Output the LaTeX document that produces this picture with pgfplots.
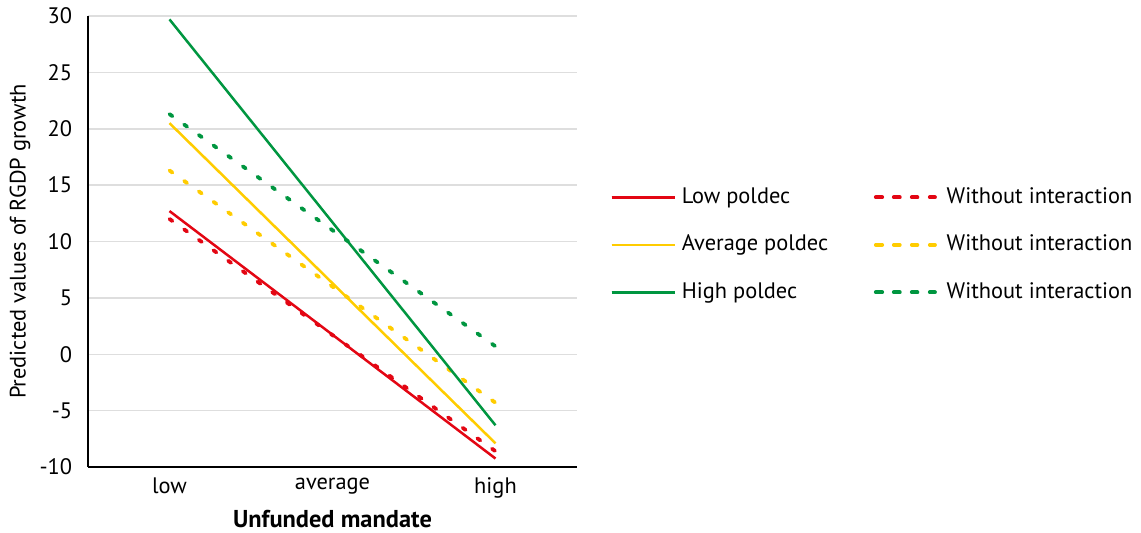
\documentclass[border=0pt]{standalone}
\usepackage{fontspec}
\setmainfont{PT Sans}
\usepackage{pgfplots}
\pgfplotsset{compat=1.18}
\definecolor{cred}{RGB}{227,6,19}
\definecolor{cyel}{RGB}{255,204,0}
\definecolor{cgrn}{RGB}{0,150,64}
\definecolor{cgrid}{RGB}{222,222,222}
\tikzset{
  solidln/.style={line width=1.25pt},
  dashln/.style={line width=1.9pt, line cap=round, dash pattern=on 1.8pt off 7.2pt},
}
\pgfplotsset{
  solidleg/.style={legend image code/.code={\path (0pt,0pt) -- (31.5pt,0pt);\draw[##1] (0pt,0pt) -- (31.5pt,0pt);}},
  dashleg/.style={legend image code/.code={\path (0pt,0pt) -- (31.5pt,0pt);\draw[##1,dash pattern=on 2.2pt off 6.6pt] (1pt,0pt) -- (29.7pt,0pt);}},
}
\begin{document}
\fontsize{11.2}{13}\selectfont
\begin{tikzpicture}
\useasboundingbox (-44pt,-32.5pt) rectangle (526.5pt,233.5pt);
\begin{axis}[
  scale only axis, width=244.5pt, height=225.5pt,
  at={(0,0)}, anchor=south west,
  xmin=-0.5, xmax=2.5, ymin=-10, ymax=30,
  xtick={0,1,2}, xticklabels={low,average,high},
  ytick={-10,-5,0,5,10,15,20,25,30},
  /pgf/number format/assume math mode=true,
  axis lines*=left,
  axis line style={line width=0.75pt, black},
  major tick length=0pt,
  ymajorgrids, grid style={cgrid, line width=0.75pt},
  tick label style={font=\fontsize{11.2}{13}\selectfont},
  yticklabel style={xshift=-4pt},
  xticklabel style={yshift=-1.5pt},
  xlabel={\textbf{Unfunded mandate}},
  ylabel={Predicted values of RGDP growth},
  label style={font=\fontsize{11.2}{13}\selectfont},
  xlabel style={at={(axis description cs:0.5,-0.1153)}, anchor=center, font=\fontsize{12.2}{14}\selectfont},
  ylabel style={at={(axis description cs:-0.139,0.5)}, anchor=center},
  legend columns=2,
  legend cell align=left,
  legend style={at={(axis description cs:1.0675,0.4925)}, anchor=west,
    draw=none, fill=none, inner sep=0pt,
    font=\fontsize{11.2}{13}\selectfont,
    nodes={inner sep=0pt, text height=8.5pt, text depth=2.5pt},
    row sep=12.75pt,
    /tikz/every odd column/.append style={column sep=3pt},
    /tikz/every even column/.append style={column sep=0pt}},
]
\addplot[cred, solidln, solidleg]
  coordinates {(0,12.7) (1,1.73) (2,-9.25)};
\addlegendentry{\makebox[96pt][l]{Low poldec}}
\addplot[cred, dashln, dashleg]
  coordinates {(0,12.0) (1,1.7) (2,-8.6)};
\addlegendentry{Without interaction}
\addplot[cyel, solidln, solidleg]
  coordinates {(0,20.5) (1,6.3) (2,-7.9)};
\addlegendentry{\makebox[96pt][l]{Average poldec}}
\addplot[cyel, dashln, dashleg]
  coordinates {(0,16.3) (1,6.0) (2,-4.3)};
\addlegendentry{Without interaction}
\addplot[cgrn, solidln, solidleg]
  coordinates {(0,29.7) (1,11.7) (2,-6.3)};
\addlegendentry{\makebox[96pt][l]{High poldec}}
\addplot[cgrn, dashln, dashleg]
  coordinates {(0,21.3) (1,11.0) (2,0.7)};
\addlegendentry{Without interaction}
\end{axis}
\end{tikzpicture}
\end{document}
